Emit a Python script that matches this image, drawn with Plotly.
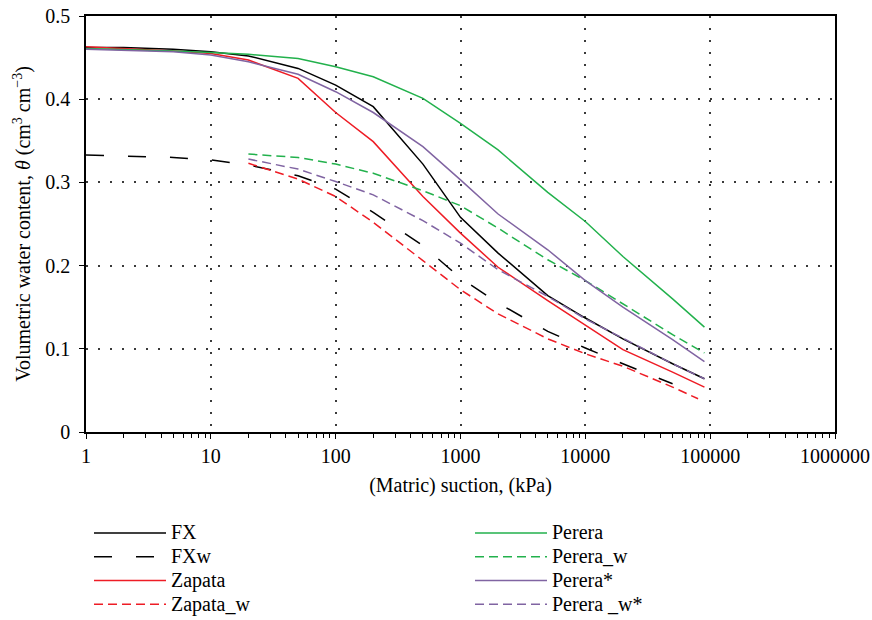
import plotly.graph_objects as go

# ---- data ----
suction_full = [1, 2, 5, 10, 20, 50, 100, 200, 500, 1000, 2000, 5000, 10000, 20000, 50000, 90000]
suction_w = [20, 50, 100, 200, 500, 1000, 2000, 5000, 10000, 20000, 50000, 90000]
suction_fxw = [1, 2, 5, 10, 20, 50, 100, 200, 500, 1000, 2000, 5000, 10000, 20000, 50000]
suction_zw = [20, 50, 100, 200, 500, 1000, 2000, 5000, 10000, 20000, 50000, 80000]

fx = [0.462, 0.462, 0.460, 0.457, 0.452, 0.437, 0.417, 0.391, 0.322, 0.258, 0.215, 0.164, 0.137, 0.112, 0.082, 0.064]
fxw = [0.333, 0.332, 0.330, 0.327, 0.321, 0.308, 0.292, 0.264, 0.224, 0.185, 0.155, 0.121, 0.101, 0.082, 0.058]
zapata = [0.463, 0.461, 0.458, 0.455, 0.447, 0.425, 0.384, 0.349, 0.283, 0.239, 0.198, 0.158, 0.128, 0.099, 0.072, 0.054]
zapata_w = [0.323, 0.304, 0.283, 0.252, 0.206, 0.171, 0.142, 0.112, 0.094, 0.079, 0.054, 0.040]
perera = [0.461, 0.460, 0.458, 0.456, 0.454, 0.449, 0.439, 0.427, 0.401, 0.371, 0.339, 0.288, 0.253, 0.211, 0.160, 0.126]
perera_w = [0.334, 0.330, 0.322, 0.311, 0.290, 0.272, 0.245, 0.207, 0.182, 0.154, 0.117, 0.095]
perera_s = [0.460, 0.459, 0.457, 0.453, 0.445, 0.430, 0.409, 0.384, 0.343, 0.303, 0.262, 0.219, 0.182, 0.150, 0.111, 0.0845]
perera_ws = [0.328, 0.316, 0.301, 0.285, 0.254, 0.227, 0.195, 0.163, 0.136, 0.113, 0.082, 0.064]

x_tickvals = [1, 10, 100, 1000, 10000, 100000, 1000000]
x_ticktext = ["1", "10", "100", "1000", "10000", "100000", "1000000"]

BLACK = "#000000"
RED = "#ee1c25"
GREEN = "#22b14c"
PURPLE = "#8064a2"
FONT = "Liberation Serif"

fig = go.Figure()

def add(x, y, name, color, dash, legend):
    fig.add_trace(go.Scatter(
        x=x, y=y, mode="lines",
        name="<span style='font-size:20px'>" + name + "</span>",
        line=dict(color=color, width=1.5, dash=dash),
        legend=legend,
    ))

add(suction_full, fx, "FX", BLACK, "solid", "legend")
add(suction_fxw, fxw, "FXw", BLACK, "18px,24px", "legend")
add(suction_full, zapata, "Zapata", RED, "solid", "legend")
add(suction_zw, zapata_w, "Zapata_w", RED, "9px,5px", "legend")
add(suction_full, perera, "Perera", GREEN, "solid", "legend2")
add(suction_w, perera_w, "Perera_w", GREEN, "9px,5px", "legend2")
add(suction_full, perera_s, "Perera*", PURPLE, "solid", "legend2")
add(suction_w, perera_ws, "Perera _w*", PURPLE, "9px,5px", "legend2")

# plot area in pixels: x 86..835, y 16..432
PL, PR, PT, PB = 86, 835, 16, 432
def px_x(px):
    return (px - PL) / (PR - PL)
def px_y(py):
    return (PB - py) / (PB - PT)

legend_common = dict(
    xref="paper", yref="paper", xanchor="left", yanchor="top",
    font=dict(family=FONT, size=16, color="black"),
    bgcolor="rgba(0,0,0,0)", borderwidth=0, itemwidth=72,
    tracegroupgap=0,
)

fig.update_layout(
    width=872, height=620,
    margin=dict(l=PL, r=872 - PR, t=PT, b=620 - PB, autoexpand=False),
    paper_bgcolor="white", plot_bgcolor="white",
    font=dict(family=FONT, size=20, color="black"),
    showlegend=True,
    legend=dict(x=px_x(89), y=px_y(516), **legend_common),
    legend2=dict(x=px_x(470), y=px_y(516), **legend_common),
)

GRID = dict(showgrid=True, gridcolor="#3a3a3a", griddash="1.5px,10.5px", gridwidth=1.5)

fig.update_xaxes(
    type="log", range=[0, 6],
    tickvals=x_tickvals, ticktext=x_ticktext,
    ticks="outside", ticklen=5, tickcolor="black", tickwidth=1,
    showline=True, linecolor="black", linewidth=1.5, mirror=True,
    minor=dict(ticks="outside", ticklen=4, tickcolor="black", dtick="D1", showgrid=False),
    zeroline=False,
    tickfont=dict(family=FONT, size=20),
    title=dict(text="(Matric) suction, (kPa)", font=dict(family=FONT, size=20), standoff=12),
    **GRID,
)
fig.update_yaxes(
    range=[0, 0.5], dtick=0.1, tick0=0,
    ticks="outside", ticklen=5, tickcolor="black", tickwidth=1,
    ticklabelstandoff=5,
    showline=True, linecolor="black", linewidth=1.5, mirror=True,
    zeroline=False,
    tickfont=dict(family=FONT, size=20),
    title=dict(text="Volumetric water content, <i>θ</i> (cm<sup>3</sup> cm<sup>−3</sup>)",
               font=dict(family=FONT, size=20), standoff=9),
    **GRID,
)

fig.write_html("out.html", config={"displayModeBar": False},
               post_script="document.body.style.margin='0px';")
